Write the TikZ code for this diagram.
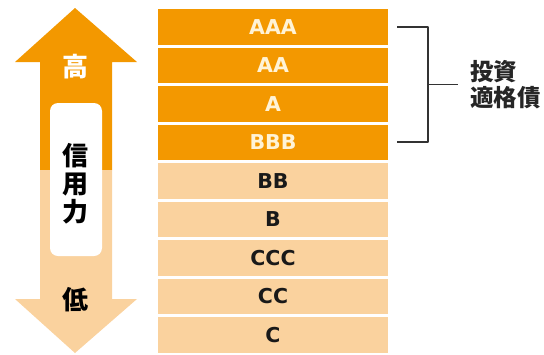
\documentclass[tikz,border=0pt]{standalone}
\usepackage{fontspec}
\setmainfont{Noto Sans CJK JP}
\newfontfamily\ratefont{DejaVu Sans}
\usetikzlibrary{positioning}

\definecolor{ratehigh}{HTML}{F39800}
\definecolor{ratelow}{HTML}{FAD29E}
\definecolor{ratecream}{HTML}{FFF3D6}
\definecolor{bracketgray}{HTML}{333333}

\begin{document}
\begin{tikzpicture}[x=1pt, y=-1pt, line cap=round, line join=round,
    rowbox/.style={minimum width=230pt, minimum height=35.5pt, inner sep=0pt,
      font=\ratefont\fontsize{20.5}{21}\selectfont\bfseries},
    highrow/.style={rowbox, fill=ratehigh, text=ratecream},
    lowrow/.style={rowbox, fill=ratelow, text=black!90},
    arrowtext/.style={inner sep=0pt, align=center,
      font=\fontsize{26}{28}\selectfont\bfseries},
    bracket/.style={draw=bracketgray, line width=1.8pt, line cap=butt}]

  % page size (pixels of the reference)
  \useasboundingbox (0,0) rectangle (544,354);

  % double arrow on the left: dark upper half, light lower half
  \fill[ratehigh] (75,8) -- (137,62) -- (112,62) -- (112,170)
    -- (40,170) -- (40,62) -- (15,62) -- cycle;
  \fill[ratelow] (40,170) -- (112,170) -- (112,299) -- (137,299)
    -- (75,353) -- (15,299) -- (40,299) -- cycle;
  \fill[white, rounded corners=8pt] (50,103) rectangle (102,256);

  \node[arrowtext, text=white] (high) at (75,67) {高};
  \node[arrowtext] (credit) at (75,184) {信\\用\\力};
  \node[arrowtext] (low) at (75,300) {低};

  % rating rows
  \foreach \r [count=\i from 0] in {AAA,AA,A,BBB}
    \node[highrow] (row-\r) at (273, {26.75+38.5*\i}) {\r};
  \foreach \r [count=\i from 4] in {BB,B,CCC,CC,C}
    \node[lowrow] (row-\r) at (273, {26.75+38.5*\i}) {\r};

  % bracket round the investment grade rows
  \coordinate (brtop) at ([xshift=9pt]row-AAA.east);
  \coordinate (brbot) at ([xshift=9pt]row-BBB.east);
  \draw[bracket] (brtop) -- ++(31,0) coordinate (brtr)
    -- (brtr |- brbot) coordinate (brbr) -- (brbot);
  \path (brtr) -- (brbr) coordinate[midway] (brmid);

  \node[inner sep=0pt, align=left, right=42pt of brmid,
    font=\fontsize{23.5}{26}\selectfont\bfseries, text=black!85] (grade) {投資\\適格債};
  \draw[bracket, line width=1.4pt] (brmid) -- ([xshift=-12pt]grade.west);
\end{tikzpicture}
\end{document}
